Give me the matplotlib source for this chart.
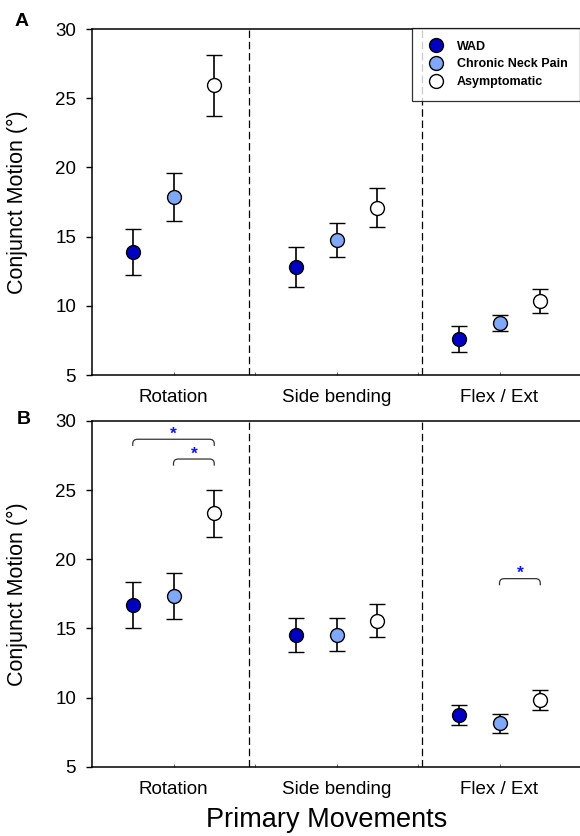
import matplotlib
matplotlib.use("Agg")
import matplotlib.pyplot as plt
from matplotlib.path import Path
from matplotlib.patches import PathPatch
from matplotlib.lines import Line2D

plt.rcParams['font.family'] = ['Liberation Sans', 'DejaVu Sans']

categories = ["Rotation", "Side bending", "Flex / Ext"]
groups = ["WAD", "Chronic Neck Pain", "Asymptomatic"]
group_colors = ["#0000C0", "#80A8F8", "#FFFFFF"]

# Panel A: means and SE per group (rows) x category (cols)
a_means = [[13.87, 12.83, 7.60],
           [17.85, 14.76, 8.77],
           [25.93, 17.10, 10.35]]
a_errs = [[1.68, 1.45, 0.95],
          [1.75, 1.23, 0.60],
          [2.20, 1.38, 0.87]]

# Panel B
b_means = [[16.69, 14.52, 8.76],
           [17.35, 14.55, 8.15],
           [23.32, 15.57, 9.84]]
b_errs = [[1.68, 1.20, 0.71],
          [1.67, 1.20, 0.69],
          [1.69, 1.21, 0.72]]

# significance brackets in panel B: (category index, group from, group to, top value)
b_sig = [(0, 0, 2, 28.68), (0, 1, 2, 27.25), (2, 1, 2, 18.60)]

offsets = [-0.25, 0.0, 0.25]
dividers = [1.463, 2.525]

W, H = 580, 836
fig = plt.figure(figsize=(W / 100, H / 100), dpi=100)

def px_axes(left, top, right, bottom):
    return fig.add_axes([left / W, 1 - bottom / H, (right - left) / W, (bottom - top) / H])

axA = px_axes(92, 29, 581, 375)
axB = px_axes(92, 421, 581, 766.7)

def style(ax):
    ax.set_xlim(0.5, 3.5)
    ax.set_ylim(5, 30)
    ax.set_yticks([5, 10, 15, 20, 25, 30])
    ax.set_xticks([1, 2, 3])
    ax.set_xticklabels(categories)
    ax.set_xticks([1.5, 2.5], minor=True)
    ax.tick_params(axis='y', direction='out', length=4, width=1.0, labelsize=13.5, pad=7.5)
    ax.tick_params(axis='x', which='both', direction='in', length=2, width=0.6,
                   color='#555555', labelsize=13.5, pad=10)
    ax.spines['right'].set_visible(False)
    for s in ['left', 'top', 'bottom']:
        ax.spines[s].set_linewidth(1.1)
    for d in dividers:
        ax.axvline(d, color='black', linestyle=(0, (6, 3)), linewidth=0.9)
    ax.set_ylabel("Conjunct Motion (°)", fontsize=15.5)
    ax.yaxis.set_label_coords(-0.131, 0.5)

def draw(ax, means, errs):
    for gi in range(3):
        xs = [ci + 1 + offsets[gi] for ci in range(3)]
        ax.errorbar(xs, means[gi], yerr=errs[gi], fmt='o', color='black',
                    ecolor='black', elinewidth=1.2, capsize=5.5, capthick=1.2,
                    markersize=10, markerfacecolor=group_colors[gi],
                    markeredgecolor='black', markeredgewidth=1.0, zorder=3)

style(axA)
style(axB)
draw(axA, a_means, a_errs)
draw(axB, b_means, b_errs)

def bracket(ax, x0, x1, ytop, drop=0.48, rx=0.03, ry=0.32):
    verts = [(x0, ytop - drop), (x0, ytop - ry), (x0, ytop), (x0 + rx, ytop),
             (x1 - rx, ytop), (x1, ytop), (x1, ytop - ry), (x1, ytop - drop)]
    codes = [Path.MOVETO, Path.LINETO, Path.CURVE3, Path.CURVE3,
             Path.LINETO, Path.CURVE3, Path.CURVE3, Path.LINETO]
    ax.add_patch(PathPatch(Path(verts, codes), facecolor='none',
                           edgecolor='#333333', linewidth=0.9))
    ax.text((x0 + x1) / 2, ytop + 0.05, '*', color='#1010FF', fontsize=12.5,
            fontweight='bold', ha='center', va='baseline')

for ci, g0, g1, ytop in b_sig:
    bracket(axB, ci + 1 + offsets[g0], ci + 1 + offsets[g1], ytop)

handles = [Line2D([], [], marker='o', linestyle='none', markersize=10,
                  markerfacecolor=c, markeredgecolor='black', markeredgewidth=1.0)
           for c in group_colors]
leg = axA.legend(handles, groups, loc='upper left',
                 bbox_to_anchor=(412 / W, 1 - 28.3 / H), bbox_transform=fig.transFigure,
                 prop={'weight': 'bold', 'size': 9}, frameon=True, fancybox=False,
                 borderpad=1.0, handlelength=1.8, handletextpad=0.8, labelspacing=0.45,
                 borderaxespad=0)
leg.get_frame().set_edgecolor('black')
leg.get_frame().set_linewidth(0.9)

fig.text(22 / W, 1 - 22 / H, "A", fontsize=14, fontweight='bold', ha='center', va='center')
fig.text(24 / W, 1 - 420 / H, "B", fontsize=14, fontweight='bold', ha='center', va='center')
fig.text(327 / W, 1 - 820 / H, "Primary Movements", fontsize=19.5, ha='center', va='center')

fig.savefig("out.png", dpi=100)
